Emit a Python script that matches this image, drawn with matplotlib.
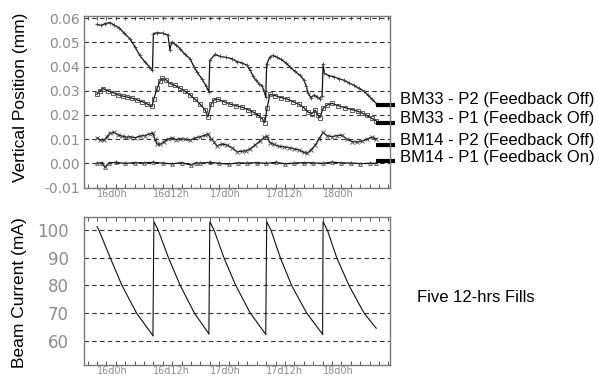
import matplotlib
matplotlib.use("Agg")
import matplotlib.pyplot as plt
from matplotlib.ticker import MultipleLocator

# hours after 16d0h
bm33_p2_t = [0, 0.9, 1.7, 2.8, 3.6, 4.7, 5.7, 7.0, 8.1, 9.1, 10.2, 11.1, 11.8, 12.0, 12.8, 14.0, 15.1, 15.5, 15.9,
             16.8, 17.7, 18.7, 19.8, 20.6, 21.3, 22.3, 23.2, 23.8, 24.0, 25.1, 26.2, 27.4, 28.7, 29.8, 30.9, 31.9,
             32.6, 33.2, 33.8, 34.5, 35.1, 35.5, 35.9, 36.1, 36.8, 37.4, 38.3, 39.1, 40.2, 41.1, 42.1, 43.2, 44.0,
             44.5, 44.9, 45.5, 46.2, 46.8, 47.4, 47.9, 48.1, 48.4, 49.4, 50.4, 51.5, 52.6, 53.6, 54.7, 55.7, 56.8,
             57.7, 58.5, 59.5]
bm33_p2 = [.0574, .0570, .0578, .0582, .0572, .0560, .0540, .0515, .0481, .0446, .0419, .0400, .0384, .0536,
           .0540, .0538, .0530, .0470, .0501, .0490, .0474, .0450, .0433, .0400, .0377, .0350, .0320, .0295,
           .0426, .0450, .0442, .0438, .0433, .0420, .0415, .0405, .0384, .0360, .0343, .0330, .0320, .0300,
           .0275, .0410, .0440, .0446, .0438, .0430, .0415, .0398, .0380, .0364, .0345, .0320, .0290, .0272,
           .0282, .0275, .0268, .0280, .0410, .0372, .0362, .0358, .0350, .0343, .0333, .0322, .0310, .0298,
           .0282, .0265, .0246]

bm33_p1_t = [0, 0.6, 1.3, 2.3, 3.4, 4.5, 5.5, 6.4, 7.4, 8.5, 9.6, 10.6, 11.7, 12.1, 12.8, 13.4, 13.8, 14.7, 15.5,
             16.6, 17.7, 18.7, 19.8, 20.9, 21.9, 23.0, 23.6, 24.3, 24.9, 25.7, 27.0, 28.3, 29.6, 30.9, 32.1, 33.2,
             34.3, 35.1, 35.7, 36.2, 36.8, 37.9, 39.1, 40.4, 41.7, 43.0, 44.0, 44.9, 45.7, 46.4, 47.0, 47.4, 48.1,
             48.9, 50.0, 51.3, 52.8, 54.3, 55.5, 56.4, 57.4, 58.5, 59.4]
bm33_p1 = [.0285, .0300, .0309, .0300, .0292, .0283, .0278, .0274, .0270, .0262, .0255, .0246, .0235, .0268,
           .0310, .0340, .0351, .0345, .0330, .0322, .0310, .0298, .0283, .0265, .0245, .0222, .0192, .0245,
           .0262, .0265, .0255, .0245, .0238, .0232, .0222, .0212, .0200, .0185, .0168, .0230, .0285, .0280,
           .0272, .0266, .0255, .0244, .0230, .0212, .0205, .0220, .0200, .0188, .0227, .0240, .0248, .0238,
           .0230, .0222, .0215, .0208, .0198, .0186, .0176]

bm14_p2_t = [0, 0.6, 1.5, 2.1, 2.8, 3.6, 4.5, 5.3, 6.2, 7.0, 8.1, 9.1, 10.2, 11.3, 11.9, 12.3, 12.8, 13.4, 14.3,
             15.1, 16.0, 16.8, 17.7, 18.7, 19.8, 20.9, 21.9, 23.0, 23.6, 24.3, 24.9, 25.5, 26.6, 27.7, 28.7, 29.8,
             30.9, 31.7, 32.6, 33.6, 34.7, 35.5, 36.2, 36.8, 37.7, 38.7, 39.8, 40.9, 41.9, 43.0, 44.0, 44.7, 45.5,
             46.4, 47.2, 48.1, 48.9, 50.0, 51.1, 52.1, 53.2, 54.3, 55.3, 56.4, 57.4, 58.5, 59.4]
bm14_p2 = [.0105, .0098, .0095, .0110, .0125, .0128, .0118, .0112, .0108, .0110, .0106, .0112, .0115, .0123,
           .0125, .0100, .0080, .0078, .0090, .0100, .0105, .0098, .0102, .0100, .0096, .0105, .0110, .0116,
           .0122, .0100, .0088, .0072, .0080, .0075, .0065, .0048, .0050, .0052, .0060, .0075, .0092, .0107,
           .0112, .0085, .0078, .0070, .0068, .0065, .0060, .0055, .0045, .0042, .0055, .0074, .0100, .0128,
           .0115, .0110, .0115, .0116, .0100, .0090, .0088, .0092, .0100, .0108, .0102]

bm14_p1_t = [0, 1.0, 1.7, 2.5, 4, 6, 8, 10, 12, 14, 16, 18, 20, 21, 22, 24, 26, 28, 30, 32, 34, 36, 38, 40, 42,
             44, 46, 48, 50, 52, 54, 56, 58, 59.4]
bm14_p1 = [0, .0003, -.0017, .0002, .0004, .0000, .0003, .0002, .0004, .0001, -.0002, .0003, -.0007, .0002,
           .0001, .0004, .0000, -.0003, .0002, .0001, .0003, .0000, .0004, -.0002, .0001, .0003, .0002, .0000,
           .0005, .0002, .0001, -.0001, .0000, .0000]

# beam current, one list per fill
fill_t = [[0, 0.4, 2.8, 5.3, 8.4, 11.9],
          [11.9, 12.1, 13.0, 15.2, 17.7, 20.7, 23.8],
          [23.8, 24.0, 24.9, 27.0, 29.5, 32.6, 35.9],
          [35.9, 36.1, 37.0, 39.0, 41.4, 44.6, 48.0],
          [48.0, 48.1, 49.0, 51.0, 53.6, 56.8, 59.4]]
fill_i = [[101.2, 100, 90, 80, 70, 61.8],
          [61.8, 103, 100, 90, 80, 70, 62.5],
          [62.5, 103, 100, 90, 80, 70, 62.3],
          [62.3, 103, 100, 90, 80, 70, 62.3],
          [62.3, 103, 100, 90, 80, 70, 64.5]]

series = [("BM33 - P2 (Feedback Off)", bm33_p2_t, bm33_p2, "+"),
          ("BM33 - P1 (Feedback Off)", bm33_p1_t, bm33_p1, "s"),
          ("BM14 - P2 (Feedback Off)", bm14_p2_t, bm14_p2, "x"),
          ("BM14 - P1 (Feedback On)", bm14_p1_t, bm14_p1, "^")]
label_y = [.0262, .0187, .0096, .0026]
stub_y = [.0240, .0168, .0074, .0009]

xtick_pos = [0, 12, 24, 36, 48]
xtick_lab = ["16d0h", "16d12h", "17d0h", "17d12h", "18d0h"]
pos_ticks = [-0.01, 0.0, 0.01, 0.02, 0.03, 0.04, 0.05, 0.06]
cur_ticks = [60, 70, 80, 90, 100]

TXT = "Liberation Sans"
GRAY = "#8c8c8c"

fig = plt.figure(figsize=(5.99, 3.77), dpi=100)
ax1 = fig.add_axes([0.1402, 0.5013, 0.5109, 0.4562])
ax2 = fig.add_axes([0.1402, 0.0318, 0.5109, 0.3934])


def style(ax):
    for s in ax.spines.values():
        s.set_color("#7a7a7a")
        s.set_linewidth(1.0)
    ax.set_xlim(-2.77, 62.34)
    ax.set_xticks(xtick_pos)
    ax.set_xticklabels(xtick_lab, ha="left", color=GRAY, fontsize=7)
    ax.xaxis.set_minor_locator(MultipleLocator(2))
    ax.tick_params(axis="x", which="both", direction="in", top=True, length=3, width=0.7,
                   color="#555555", pad=0.5)
    ax.tick_params(axis="y", length=0, colors=GRAY)
    ax.yaxis.grid(True, color="#333333", linestyle=(0, (4, 3)), linewidth=0.8)
    ax.set_axisbelow(True)


style(ax1)
for (name, t, v, m), ly, sy in zip(series, label_y, stub_y):
    ax1.plot(t, v, color="#111111", linewidth=0.9, marker=m, markersize=2.6,
             markeredgewidth=0.6, markerfacecolor="none", markeredgecolor="#444444")
    ax1.plot([59.4, 63.4], [sy, sy], color="black", linewidth=3, clip_on=False,
             solid_capstyle="butt")
    ax1.text(64.5, ly, name, fontsize=12, family=TXT, va="center", ha="left")
ax1.set_ylim(-0.0102, 0.0609)
ax1.set_yticks(pos_ticks)
ax1.set_yticklabels(["%.2f" % p for p in pos_ticks], fontsize=10, color=GRAY)
ax1.tick_params(axis="y", pad=3)

style(ax2)
for t, i in zip(fill_t, fill_i):
    ax2.plot(t, i, color="#111111", linewidth=0.8)
ax2.set_ylim(51.2, 104.8)
ax2.set_yticks(cur_ticks)
ax2.set_yticklabels([str(c) for c in cur_ticks], fontsize=12, color=GRAY)
ax2.tick_params(axis="y", pad=11)

fig.text(21 / 599, 1 - 97.5 / 377, "Vertical Position (mm)", rotation=90, ha="center", va="center",
         fontsize=12.5, family=TXT)
fig.text(20 / 599, 1 - 292.5 / 377, "Beam Current (mA)", rotation=90, ha="center", va="center",
         fontsize=12.5, family=TXT)
fig.text(417 / 599, 1 - 297 / 377, "Five 12-hrs Fills", ha="left", va="center", fontsize=12, family=TXT)

fig.savefig("out.png", dpi=100)
